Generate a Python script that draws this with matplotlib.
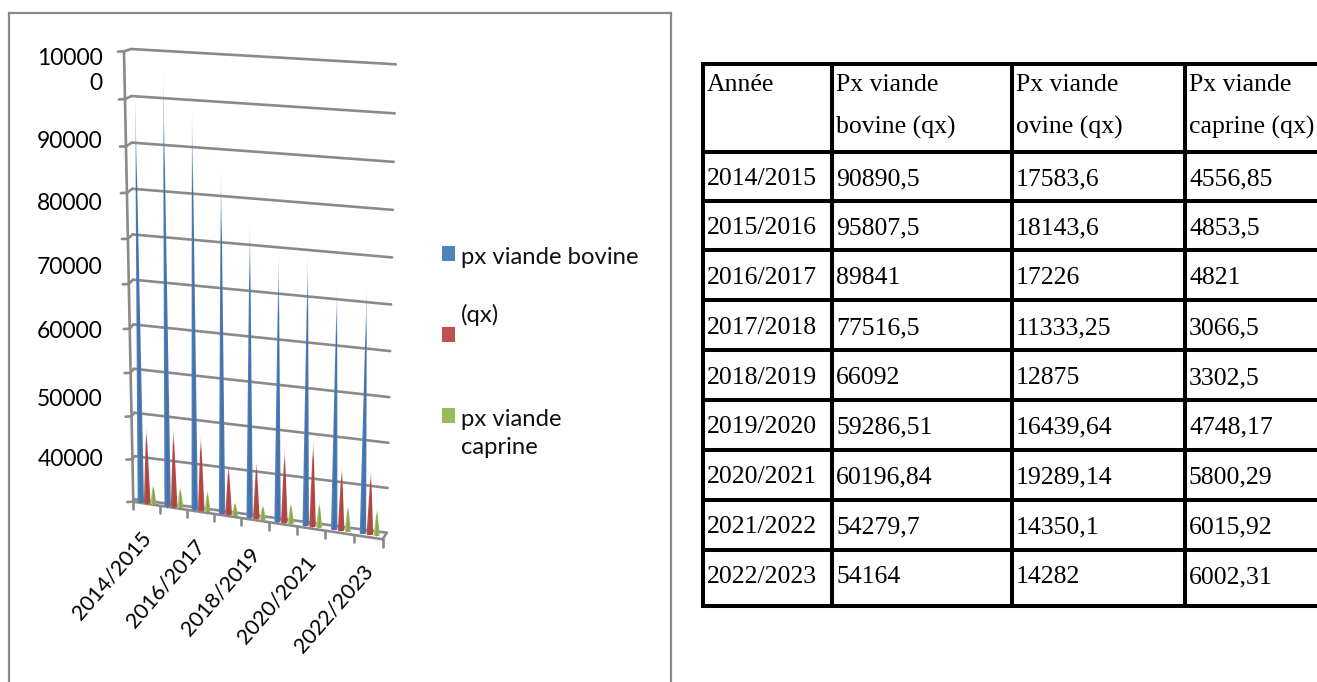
import numpy as np
import matplotlib
matplotlib.use("Agg")
import matplotlib.pyplot as plt

# ---------- data ----------
years = ["2014/2015", "2015/2016", "2016/2017", "2017/2018", "2018/2019",
         "2019/2020", "2020/2021", "2021/2022", "2022/2023"]
bovine_txt = ["90890,5", "95807,5", "89841", "77516,5", "66092",
              "59286,51", "60196,84", "54279,7", "54164"]
ovine_txt = ["17583,6", "18143,6", "17226", "11333,25", "12875",
             "16439,64", "19289,14", "14350,1", "14282"]
caprine_txt = ["4556,85", "4853,5", "4821", "3066,5", "3302,5",
               "4748,17", "5800,29", "6015,92", "6002,31"]
bovine = [float(s.replace(",", ".")) for s in bovine_txt]
ovine = [float(s.replace(",", ".")) for s in ovine_txt]
caprine = [float(s.replace(",", ".")) for s in caprine_txt]
y_tick_labels = ["10000\n0", "90000", "80000", "70000", "60000", "50000", "40000"]
x_tick_labels = ["2014/2015", "2016/2017", "2018/2019", "2020/2021", "2022/2023"]
headers = ["Année", "Px viande\nbovine (qx)", "Px viande\novine (qx)", "Px viande\ncaprine (qx)"]

# ---------- style / layout ----------
W, H = 1317, 682
BLUE, RED, GREEN = "#4F81BD", "#C0504D", "#9BBB59"
GREY = "#8A8A8A"
SANS = "Lato"
SERIF = "Liberation Serif"
V_MAX = 100000.0
N_CAT = len(years)

fig = plt.figure(figsize=(W / 100, H / 100), dpi=100, facecolor="white")
ax = fig.add_axes([0, 0, 1, 1])
ax.set_axis_off()


def homography(dst):
    src = [(0, 0), (1, 0), (0, 1), (1, 1)]
    A, b = [], []
    for (x, y), (X, Y) in zip(src, dst):
        A.append([x, y, 1, 0, 0, 0, -x * X, -y * X]); b.append(X)
        A.append([0, 0, 0, x, y, 1, -x * Y, -y * Y]); b.append(Y)
    return np.append(np.linalg.solve(np.array(A, float), np.array(b, float)), 1).reshape(3, 3)


BACK = homography([(135, 499.3), (386.7, 532.7), (131, 49), (395.7, 64.3)])
FRONT = homography([(133.3, 501.7), (382.7, 539.3), (124, 51.3), (391, 67.5)])


def project(u, v, d=0.0):
    """Category position u, value v and floor depth d (0 back wall, 1 front) to picture."""
    p = np.array([u / N_CAT, v / V_MAX, 1.0])
    a = BACK @ p
    b = FRONT @ p
    return (1 - d) * a[:2] / a[2] + d * b[:2] / b[2]


def seg(p, q, **kw):
    ax.plot([p[0], q[0]], [p[1], q[1]], color=GREY, lw=1.9, solid_capstyle="round", **kw)


# chart frame
ax.plot([9, 9], [H + 5, 13], color=GREY, lw=1.6)
ax.plot([9, 671], [13, 13], color=GREY, lw=1.6)
ax.plot([671, 671], [13, H + 5], color=GREY, lw=1.6)

# walls, grid, axes
for k in range(11):
    v = k * V_MAX / 10
    if k > 0:
        seg(project(0, v), project(N_CAT, v))
    seg(project(0, v, 1), project(0, v))
    p = project(0, v, 1)
    seg(p, p + np.array([-6, 0.3]))
seg(project(0, 0, 1), project(0, V_MAX, 1))
seg(project(0, 0), project(N_CAT, 0))
seg(project(0, 0, 1), project(N_CAT, 0, 1))
seg(project(N_CAT, 0, 1), project(N_CAT, 0))
for i in range(N_CAT + 1):
    p = project(i, 0, 1)
    seg(p, p + np.array([0, 7.5]))


def draw_cone(u, value, color, half, fade=0.22, light=0.0):
    base = project(u, 0, 0.5)
    tip = project(u, value, 0.5)
    minor = half * 0.45
    x0, x1 = int(min(base[0], tip[0]) - half - 2), int(max(base[0], tip[0]) + half + 3)
    y0, y1 = int(tip[1] - 2), int(base[1] + minor + 3)
    xx, yy = np.meshgrid(np.arange(x0, x1) + 0.5, np.arange(y0, y1) + 0.5)
    t = np.clip((base[1] - yy) / (base[1] - tip[1]), 0, 1)      # 0 at base, 1 at tip
    cx = base[0] + (tip[0] - base[0]) * t
    hw = half * (1 - t) ** 0.92
    below = yy > base[1]
    rel = np.where(below, np.clip((yy - base[1]) / minor, 0, 1), 0)
    hw = np.where(below, half * np.sqrt(np.clip(1 - rel ** 2, 0, 1)), hw)
    cover = np.clip(hw - np.abs(xx - cx) + 0.5, 0, 1)
    cover[yy < tip[1]] = 0
    s = np.clip((xx - cx) / np.maximum(hw, 0.4), -1, 1)
    rgb0 = np.array(matplotlib.colors.to_rgb(color))
    shade = 0.86 + 0.16 * np.abs(s - 0.1)
    glow = np.clip(-s, 0, 1) * light
    img = np.zeros(xx.shape + (4,))
    for c in range(3):
        img[..., c] = np.clip(rgb0[c] * shade * (1 - glow) + glow, 0, 1)
    img[..., 3] = cover * np.clip((1 - t) / fade, 0.12, 1)
    ax.imshow(img, extent=(x0, x1, y1, y0), interpolation="nearest", aspect="auto", zorder=3)


for i in range(N_CAT):
    draw_cone(i + 0.25, bovine[i], BLUE, 3.2)
    draw_cone(i + 0.49, ovine[i], RED, 3.3)
    draw_cone(i + 0.72, caprine[i], GREEN, 3.1, fade=0.3, light=0.25)

ax.set_xlim(0, W)
ax.set_ylim(H, 0)

# value labels
y_label_pos = [71, 141, 204, 268, 332, 399, 460]
for lab, y in zip(y_tick_labels, y_label_pos):
    ax.text(103, y, lab, ha="right", va="center", family=SANS, fontsize=16.5,
            color="black", linespacing=1.25, multialignment="right")

# category labels
for i, lab in enumerate(x_tick_labels):
    p = project(2 * i + 0.5, 0, 1)
    ax.text(p[0] - 6, p[1] + 24, lab, rotation=49, rotation_mode="anchor", ha="right", va="top",
            family=SANS, fontsize=15.5, color="black")

# legend
for y, c in zip([246, 327, 408], [BLUE, RED, GREEN]):
    ax.fill([442, 455, 455, 442], [y, y, y + 15, y + 15], color=c, lw=0)
for y, s in zip([258, 315, 419, 447], ["px viande bovine", "(qx)", "px viande", "caprine"]):
    ax.text(461, y, s, family=SANS, fontsize=17.2, va="center", color="#111111")

# table
col_x = [703, 832, 1012, 1185]
row_y = [64, 152, 201, 250, 300, 350, 400, 450, 500, 550, 606]
TL = 2.9
ax.hlines(row_y, col_x[0] - 2, W, color="black", lw=TL)
ax.vlines(col_x, row_y[0] - 2, row_y[-1] + 2, color="black", lw=TL)
row_base = [185, 234, 284, 334, 384, 433, 483, 533, 583]
tfs = 18.5
for x, h in zip(col_x, headers):
    parts = h.split("\n")
    ax.text(x + 4, 91, parts[0], family=SERIF, fontsize=tfs, va="baseline", color="black")
    if len(parts) > 1:
        ax.text(x + 4, 134, parts[1], family=SERIF, fontsize=tfs, va="baseline", color="black")
for r, yb in enumerate(row_base):
    for x, val in zip(col_x, [years[r], bovine_txt[r], ovine_txt[r], caprine_txt[r]]):
        ax.text(x + 4, yb, val, family=SERIF, fontsize=tfs, va="baseline", color="black")

fig.savefig("out.png", dpi=100, facecolor="white")
